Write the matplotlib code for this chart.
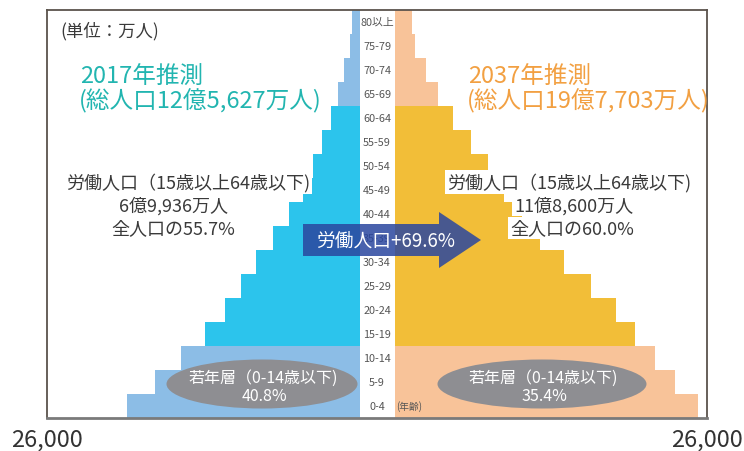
import matplotlib
matplotlib.use("Agg")
import matplotlib.pyplot as plt
from matplotlib.patches import Polygon, Ellipse

plt.rcParams['font.family'] = ['Noto Sans CJK JP', 'DejaVu Sans']

# ---- data (万人) ----
ages = ['0-4', '5-9', '10-14', '15-19', '20-24', '25-29', '30-34', '35-39',
        '40-44', '45-49', '50-54', '55-59', '60-64', '65-69', '70-74', '75-79', '80以上']
pop_2017 = [19350, 17030, 14870, 12880, 11210, 9890, 8640, 7230, 5900, 4740,
            3900, 3160, 2410, 1830, 1250, 830, 660]
pop_2037 = [25250, 23330, 21670, 20000, 18420, 16330, 14080, 12080, 10580, 9080,
            7750, 6330, 4830, 3580, 2580, 1670, 1420]
working_idx = list(range(3, 13))  # 15-19 .. 60-64
scale_max = 26000
scale_labels = ['26,000', '26,000']

titles_left = ['2017年推測', '(総人口12億5,627万人)']
titles_right = ['2037年推測', '(総人口19億7,703万人)']
work_left = ['労働人口（15歳以上64歳以下)', '6億9,936万人', '全人口の55.7%']
work_right = ['労働人口（15歳以上64歳以下)', '11億8,600万人', '全人口の60.0%']
young_left = ['若年層（0-14歳以下)', '40.8%']
young_right = ['若年層（0-14歳以下)', '35.4%']
arrow_label = '労働人口+69.6%'
unit_label = '(単位：万人)'
age_unit = '(年齢)'

# ---- colours ----
c_left_light = '#8CBDE6'
c_left_dark = '#2CC4EC'
c_right_light = '#F8C399'
c_right_dark = '#F2BE38'
c_teal = '#22B5B0'
c_orange = '#F2A042'
c_text = '#3a3a3a'

W, H = 744, 452
fig = plt.figure(figsize=(W / 100, H / 100), dpi=100)

def fx(x):
    return x / W

def fy(y):
    return 1 - y / H

ax = fig.add_axes([fx(47), fy(419), (707 - 47) / W, (419 - 11) / H])
C = 1456  # half width of the centre label column in value units
ys = list(range(len(ages)))
left_cols = [c_left_dark if i in working_idx else c_left_light for i in ys]
right_cols = [c_right_dark if i in working_idx else c_right_light for i in ys]
ax.barh(ys, [-v for v in pop_2017], left=-C, height=1.0, color=left_cols, linewidth=0)
ax.barh(ys, pop_2037, left=C, height=1.0, color=right_cols, linewidth=0)
ax.set_xlim(-(C + scale_max), C + scale_max)
ax.set_ylim(-0.5, len(ages) - 0.5)
ax.set_xticks([])
ax.set_yticks([])
for s in ax.spines.values():
    s.set_color('#5b534c')
    s.set_linewidth(1.3)
ax.spines['bottom'].set_color('#7a7a7a')
ax.spines['bottom'].set_linewidth(2)

for i, lab in enumerate(ages):
    ax.text(0, i, lab, ha='center', va='center', fontsize=7.8, color='#555555')
ax.text(C + 150, 0, age_unit, ha='left', va='center', fontsize=7, color='#555555')

# scale labels
fig.text(fx(47), fy(440), scale_labels[0], ha='center', va='center', fontsize=17, color='#333333')
fig.text(fx(707), fy(440), scale_labels[1], ha='center', va='center', fontsize=17, color='#333333')

# unit and titles
fig.text(fx(60), fy(31), unit_label, ha='left', va='center', fontsize=12.5, color=c_text)
fig.text(fx(80), fy(77), titles_left[0], ha='left', va='center', fontsize=17, color=c_teal)
fig.text(fx(79), fy(101), titles_left[1], ha='left', va='center', fontsize=17, color=c_teal)
fig.text(fx(468), fy(77), titles_right[0], ha='left', va='center', fontsize=17, color=c_orange)
fig.text(fx(467), fy(101), titles_right[1], ha='left', va='center', fontsize=17, color=c_orange)

# working-age texts
bb = dict(facecolor='white', edgecolor='none', pad=1.5)
for (x, y), t in zip([(188, 183), (174, 206), (173, 229)], work_left):
    fig.text(fx(x), fy(y), t, ha='center', va='center', fontsize=13, color=c_text, bbox=bb, zorder=5)
for (x, y), t in zip([(569, 183), (574, 206), (572, 229)], work_right):
    fig.text(fx(x), fy(y), t, ha='center', va='center', fontsize=13, color=c_text, bbox=bb, zorder=5)

# arrow
pts = [(303, 225), (439, 225), (439, 213), (481, 241), (439, 269), (439, 257), (303, 257)]
arrow = Polygon([(fx(x), fy(y)) for x, y in pts], closed=True, transform=fig.transFigure,
                facecolor='#2A469F', alpha=0.85, edgecolor='none', zorder=6)
fig.add_artist(arrow)
fig.text(fx(386), fy(241), arrow_label, ha='center', va='center', fontsize=13.5, color='white', zorder=7)

# young ellipses
for cx, w, lines in [(262, 191, young_left), (542, 209, young_right)]:
    e = Ellipse((fx(cx), fy(385)), w / W, 49 / H, transform=fig.transFigure,
                facecolor='#8E8E92', edgecolor='none', zorder=6)
    fig.add_artist(e)
    fig.text(fx(cx + 1), fy(378), lines[0], ha='center', va='center', fontsize=11.5, color='white', zorder=7)
    fig.text(fx(cx + 2), fy(397), lines[1], ha='center', va='center', fontsize=11.5, color='white', zorder=7)

fig.savefig('out.png', dpi=100)
